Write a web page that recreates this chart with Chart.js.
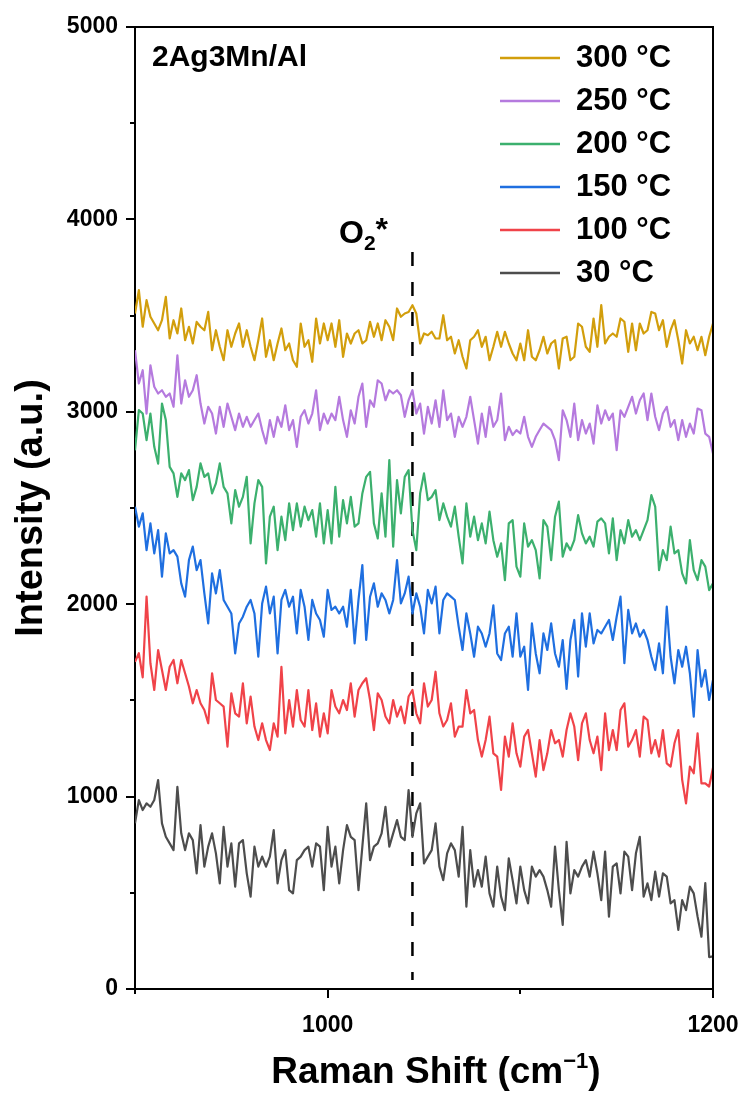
<!DOCTYPE html>
<html>
<head>
<meta charset="utf-8">
<script src="https://cdn.jsdelivr.net/npm/chart.js@4.4.0/dist/chart.umd.min.js"></script>
<style>
  html, body { margin: 0; padding: 0; background: #fff; }
  #wrap { width: 744px; height: 1093px; }
</style>
</head>
<body>
<div id="wrap"><canvas id="raman"></canvas></div>
<script>
// Raman shift grid (cm-1), one point every 2 cm-1
const shift = [];
for (let i = 0; i <= 150; i++) shift.push(900 + 2 * i);

// Intensities (a.u.) for each temperature, stacked offsets included
const t30 = [
  861, 982, 930, 965, 947, 982, 1086, 861, 791, 757, 722,
  1051, 809, 722, 809, 774, 601, 852, 636, 740, 809,
  705, 549, 843, 636, 757, 532, 757, 774, 601, 480,
  740, 636, 688, 636, 688, 826, 549, 670, 722, 514,
  497, 670, 688, 722, 740, 636, 757, 740, 514, 843,
  636, 740, 549, 722, 852, 791, 774, 514, 740, 965,
  670, 740, 757, 809, 947, 740, 809, 878, 791, 774,
  1034, 791, 913, 965, 653, 688, 722, 861, 636, 566,
  705, 757, 722, 584, 843, 428, 722, 532, 618, 532,
  688, 497, 428, 636, 480, 410, 679, 566, 445, 636,
  514, 445, 636, 584, 618, 584, 514, 428, 740, 514,
  333, 765, 497, 618, 584, 636, 670, 584, 714, 601,
  462, 714, 376, 636, 653, 497, 714, 688, 514, 705,
  791, 480, 549, 462, 610, 480, 601, 584, 445, 462,
  307, 462, 410, 532, 497, 376, 272, 551, 166, 170
];
const t100 = [
  1700, 1745, 1620, 2040, 1693, 1554, 1762, 1658, 1554, 1675, 1710,
  1589, 1710, 1641, 1572, 1485, 1554, 1485, 1450, 1381, 1641,
  1502, 1485, 1468, 1260, 1537, 1433, 1416, 1589, 1381, 1520,
  1364, 1294, 1381, 1294, 1242, 1381, 1312, 1675, 1329, 1502,
  1364, 1554, 1398, 1364, 1554, 1346, 1485, 1312, 1433, 1329,
  1554, 1468, 1433, 1502, 1450, 1589, 1416, 1554, 1589, 1615,
  1502, 1346, 1537, 1502, 1416, 1381, 1502, 1416, 1468, 1381,
  1520, 1554, 1433, 1381, 1589, 1468, 1502, 1649, 1433, 1364,
  1398, 1485, 1312, 1364, 1364, 1554, 1433, 1450, 1294, 1208,
  1294, 1416, 1225, 1208, 1035, 1312, 1208, 1381, 1225, 1156,
  1312, 1346, 1225, 1104, 1294, 1138, 1225, 1346, 1277, 1294,
  1208, 1346, 1433, 1364, 1190, 1381, 1433, 1294, 1225, 1312,
  1138, 1433, 1242, 1346, 1242, 1450, 1485, 1260, 1294, 1346,
  1208, 1416, 1398, 1225, 1294, 1208, 1346, 1173, 1156, 1277,
  1346, 1087, 965, 1156, 1121, 1329, 1069, 1069, 1052, 1150
];
const t150 = [
  2507, 2403, 2472, 2281, 2420, 2264, 2385, 2143, 2368, 2264, 2281,
  2247, 2108, 2039, 2229, 2299, 2177, 2229, 2056, 1900, 2160,
  2056, 2177, 2022, 1987, 1952, 1744, 1900, 1935, 1987, 2022,
  1952, 1727, 2004, 2091, 1952, 2039, 1744, 2022, 2074, 1987,
  2039, 1848, 2074, 1987, 1814, 2022, 1952, 1918, 1831, 2074,
  1970, 1987, 1952, 1987, 1883, 2074, 1796, 2022, 2203, 1814,
  2039, 2108, 1987, 2056, 2022, 1952, 2022, 2229, 2004, 2056,
  2143, 1952, 2056, 1987, 1848, 2074, 2004, 2091, 1848, 2022,
  2056, 2039, 2022, 1883, 1762, 1952, 1848, 1727, 1883, 1848,
  1779, 1848, 1994, 1744, 1710, 1848, 1883, 1727, 1952, 1727,
  1779, 1554, 1900, 1744, 1641, 1848, 1762, 1900, 1744, 1675,
  1814, 1560, 1814, 1918, 1624, 1952, 1779, 1952, 1796, 1866,
  1848, 1883, 1918, 1814, 1935, 2039, 1693, 1970, 1848, 1900,
  1831, 1866, 1814, 1727, 1658, 1796, 1641, 1987, 1727, 1589,
  1762, 1675, 1779, 1641, 1416, 1762, 1572, 1658, 1502, 1606
];
const t200 = [
  2800, 3009, 2991, 2853, 2991, 2818, 2731, 3043, 2957, 2714, 2680,
  2558, 2680, 2645, 2697, 2541, 2610, 2732, 2662, 2680, 2576,
  2628, 2732, 2610, 2576, 2420, 2593, 2507, 2558, 2662, 2316,
  2524, 2645, 2610, 2212, 2455, 2507, 2281, 2455, 2333, 2524,
  2385, 2524, 2403, 2507, 2437, 2489, 2351, 2524, 2316, 2489,
  2316, 2610, 2351, 2541, 2420, 2558, 2403, 2420, 2576, 2662,
  2688, 2420, 2342, 2576, 2351, 2749, 2299, 2645, 2472, 2662,
  2697, 2385, 2281, 2576, 2680, 2541, 2558, 2593, 2437, 2524,
  2455, 2403, 2507, 2351, 2212, 2524, 2351, 2455, 2333, 2420,
  2316, 2481, 2333, 2247, 2316, 2125, 2420, 2437, 2195, 2143,
  2420, 2299, 2333, 2281, 2134, 2437, 2403, 2229, 2455, 2533,
  2247, 2316, 2281, 2333, 2463, 2368, 2316, 2351, 2299, 2429,
  2446, 2420, 2264, 2446, 2229, 2385, 2316, 2437, 2351, 2385,
  2333, 2385, 2437, 2567, 2507, 2177, 2281, 2229, 2403, 2264,
  2281, 2160, 2108, 2333, 2177, 2125, 2229, 2195, 2073, 2108
];
const t250 = [
  3320, 3147, 3216, 2991, 3242, 3130, 3095, 3112, 3078, 3095, 3026,
  3294, 3043, 3164, 3078, 3112, 3190, 3043, 2939, 3026, 2991,
  2887, 3026, 2922, 3043, 2974, 2905, 2991, 2922, 2974, 2922,
  2957, 2991, 2905, 2835, 2957, 2870, 2974, 2922, 3034, 2905,
  2957, 2818, 2974, 3008, 2939, 2991, 3112, 2905, 2991, 2939,
  2991, 2957, 3078, 2957, 2870, 3008, 2939, 3078, 3147, 2922,
  3060, 3026, 3164, 3147, 3060, 3112, 3095, 3112, 3086, 2974,
  3060, 3112, 2991, 3043, 2887, 3026, 2939, 3060, 2922, 3112,
  2957, 2991, 2870, 2974, 2922, 2974, 3078, 2957, 2835, 2991,
  2870, 3026, 2922, 2957, 3095, 2853, 2922, 2879, 2905, 2887,
  2974, 2870, 2818, 2870, 2905, 2939, 2922, 2905, 2853, 2749,
  3008, 2957, 2870, 3043, 2853, 2957, 2887, 2939, 2835, 3034,
  2939, 3008, 2957, 2991, 2801, 3008, 2974, 3026, 3078, 2991,
  3060, 3095, 2957, 3095, 2974, 2905, 2991, 3026, 2922, 2957,
  2853, 2957, 2870, 2939, 2887, 3017, 3008, 2887, 2870, 2783
];
const t300 = [
  3511, 3632, 3442, 3580, 3494, 3459, 3424, 3476, 3597, 3381, 3476,
  3407, 3537, 3372, 3442, 3355, 3467, 3442, 3424, 3519, 3320,
  3424, 3338, 3268, 3424, 3338, 3407, 3459, 3338, 3424, 3338,
  3268, 3372, 3485, 3286, 3372, 3268, 3355, 3433, 3320, 3355,
  3268, 3234, 3459, 3338, 3372, 3260, 3485, 3355, 3459, 3372,
  3459, 3338, 3476, 3286, 3407, 3355, 3407, 3424, 3355, 3372,
  3468, 3390, 3459, 3372, 3476, 3442, 3372, 3537, 3494, 3511,
  3519, 3554, 3511, 3355, 3407, 3398, 3416, 3381, 3381, 3502,
  3372, 3390, 3303, 3372, 3286, 3225, 3372, 3390, 3424, 3338,
  3390, 3268, 3338, 3416, 3338, 3416, 3355, 3303, 3268, 3355,
  3268, 3424, 3286, 3268, 3320, 3390, 3303, 3355, 3372, 3225,
  3381, 3390, 3268, 3286, 3459, 3442, 3338, 3312, 3485, 3338,
  3554, 3355, 3390, 3407, 3390, 3485, 3468, 3312, 3459, 3320,
  3459, 3407, 3424, 3519, 3511, 3424, 3476, 3338, 3424, 3476,
  3372, 3251, 3424, 3355, 3390, 3320, 3390, 3294, 3390, 3459
];

const seriesValues = [t30, t100, t150, t200, t250, t300];
const seriesLabels = ['30 °C', '100 °C', '150 °C', '200 °C', '250 °C', '300 °C'];
const seriesColors = ['#4d4d4d', '#f04349', '#1f6fe0', '#3cb06e', '#b57ade', '#d29e0c'];

// O2* marker position
const o2Shift = 1044;
const o2Span = [3830, 47];

const xTicks = [900, 1000, 1100, 1200];
const yTicks = [0, 500, 1000, 1500, 2000, 2500, 3000, 3500, 4000, 4500, 5000];

const sampleName = '2Ag3Mn/Al';
const FONT = "'Liberation Sans', Arial, sans-serif";

const datasets = seriesValues.map((vals, k) => ({
  label: seriesLabels[k],
  data: vals.map((v, i) => ({ x: shift[i], y: v })),
  borderColor: seriesColors[k],
  borderWidth: 2.2,
  borderJoinStyle: 'round',
  pointRadius: 0,
  tension: 0
}));

datasets.push({
  label: 'O2*',
  data: o2Span.map(v => ({ x: o2Shift, y: v })),
  borderColor: '#000',
  borderWidth: 2.5,
  borderDash: [14, 16],
  pointRadius: 0
});

// Box edges, outward ticks, legend and text labels
const framePlugin = {
  id: 'frame',
  afterDraw(chart) {
    const { ctx, chartArea: a, scales: { x, y } } = chart;
    ctx.save();
    ctx.strokeStyle = '#000';
    ctx.lineWidth = 2;
    ctx.beginPath();
    ctx.moveTo(a.left, a.top);
    ctx.lineTo(a.right, a.top);
    ctx.lineTo(a.right, a.bottom);
    ctx.stroke();

    ctx.beginPath();
    yTicks.forEach(v => {
      const py = Math.round(y.getPixelForValue(v));
      const len = v % 1000 === 0 ? 9 : 5;
      ctx.moveTo(a.left, py);
      ctx.lineTo(a.left - len, py);
    });
    xTicks.forEach(v => {
      const px = Math.round(x.getPixelForValue(v));
      const len = v % 200 === 0 ? 9 : 5;
      ctx.moveTo(px, a.bottom);
      ctx.lineTo(px, a.bottom + len);
    });
    ctx.stroke();

    ctx.fillStyle = '#000';
    ctx.textBaseline = 'middle';
    ctx.textAlign = 'left';

    // sample name
    ctx.font = 'bold 30px ' + FONT;
    ctx.fillText(sampleName, a.left + 17, a.top + 31);

    // O2* label with subscript
    const ox = 339, oy = 234;
    ctx.font = 'bold 32px ' + FONT;
    ctx.fillText('O', ox, oy);
    let w = ctx.measureText('O').width;
    ctx.font = 'bold 21px ' + FONT;
    ctx.fillText('2', ox + w, oy + 10);
    w += ctx.measureText('2').width;
    ctx.font = 'bold 32px ' + FONT;
    ctx.fillText('*', ox + w, oy - 3);

    // legend, hottest on top
    ctx.lineWidth = 2.5;
    for (let k = seriesLabels.length - 1, row = 0; k >= 0; k--, row++) {
      const ly = a.top + 31 + row * 43;
      ctx.strokeStyle = seriesColors[k];
      ctx.beginPath();
      ctx.moveTo(500, ly);
      ctx.lineTo(560, ly);
      ctx.stroke();
      ctx.font = 'bold 31px ' + FONT;
      ctx.fillText(seriesLabels[k], 576, ly);
    }

    // x axis title with superscript
    const main = 'Raman Shift (cm', sup = '\u22121', close = ')';
    ctx.font = 'bold 37px ' + FONT;
    const w1 = ctx.measureText(main).width;
    const w3 = ctx.measureText(close).width;
    ctx.font = 'bold 22px ' + FONT;
    const w2 = ctx.measureText(sup).width;
    const tx = 436 - (w1 + w2 + w3) / 2, ty = 1073;
    ctx.font = 'bold 37px ' + FONT;
    ctx.fillText(main, tx, ty);
    ctx.font = 'bold 22px ' + FONT;
    ctx.fillText(sup, tx + w1, ty - 11);
    ctx.font = 'bold 37px ' + FONT;
    ctx.fillText(close, tx + w1 + w2, ty);
    ctx.restore();
  }
};

new Chart(document.getElementById('raman'), {
  type: 'line',
  data: { datasets },
  options: {
    responsive: true,
    maintainAspectRatio: false,
    animation: false,
    devicePixelRatio: 1,
    layout: { padding: { top: 27, right: 31, left: 0, bottom: 0 } },
    plugins: { legend: { display: false }, tooltip: { enabled: false } },
    scales: {
      x: {
        type: 'linear',
        min: 900,
        max: 1200,
        grid: { display: false, drawTicks: false },
        border: { display: true, color: '#000', width: 2 },
        afterBuildTicks: s => { s.ticks = xTicks.map(v => ({ value: v })); },
        afterFit: s => {
          s.height = 104;
          s.paddingLeft = 0;
          s.paddingRight = 0;
        },
        ticks: {
          autoSkip: false,
          maxRotation: 0,
          padding: 23,
          color: '#000',
          font: { family: FONT, size: 23, weight: 'bold' },
          callback: v => (v % 200 === 0 ? String(v) : '')
        }
      },
      y: {
        min: 0,
        max: 5000,
        grid: { display: false, drawTicks: false },
        border: { display: true, color: '#000', width: 2 },
        afterBuildTicks: s => { s.ticks = yTicks.map(v => ({ value: v })); },
        afterFit: s => {
          s.width = 135;
          s.paddingTop = 0;
          s.paddingBottom = 0;
        },
        ticks: {
          autoSkip: false,
          padding: 17,
          color: '#000',
          font: { family: FONT, size: 23, weight: 'bold' },
          callback: v => (v % 1000 === 0 ? String(v) : '')
        },
        title: {
          display: true,
          text: 'Intensity (a.u.)',
          color: '#000',
          padding: { top: 9, bottom: 0 },
          font: { family: FONT, size: 38, weight: 'bold', lineHeight: 1.2 }
        }
      }
    }
  },
  plugins: [framePlugin]
});
</script>
</body>
</html>
